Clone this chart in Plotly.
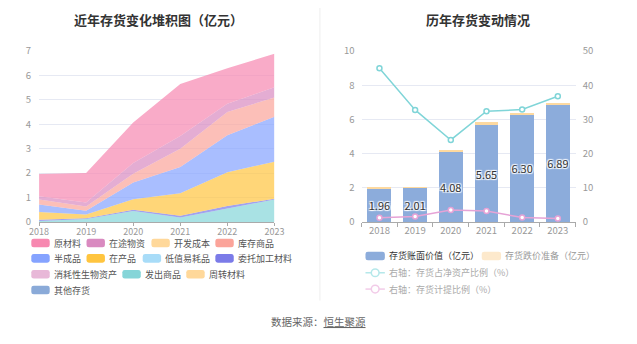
import plotly.graph_objects as go

W, H = 637, 344

years = [2018, 2019, 2020, 2021, 2022, 2023]
year_labels = ["2018", "2019", "2020", "2021", "2022", "2023"]

# stacked inventory components (亿元), bottom to top
fachu_shangpin = [0.04, 0.12, 0.45, 0.18, 0.55, 0.92]      # 发出商品
xiaohao_shengwu = [0, 0, 0, 0, 0, 0]                        # 消耗性生物资产
weituo_jiagong = [0.05, 0.03, 0.05, 0.07, 0.10, 0.03]       # 委托加工材料
dizhi_yihao = [0, 0, 0, 0, 0, 0]                            # 低值易耗品
zai_chanpin = [0.32, 0.15, 0.43, 0.93, 1.39, 1.52]          # 在产品
ban_chengpin = [0.30, 0.16, 0.69, 1.07, 1.51, 1.84]         # 半成品
kucun_shangpin = [0.21, 0.17, 0.35, 0.75, 0.96, 0.79]       # 库存商品
kaifa_chengben = [0, 0, 0, 0, 0, 0]                         # 开发成本
zaitu_wuzi = [0.13, 0.17, 0.45, 0.52, 0.33, 0.42]           # 在途物资
yuan_cailiao = [0.91, 1.21, 1.66, 2.13, 1.46, 1.37]         # 原材料
zhouzhuan_cailiao = [0, 0, 0, 0, 0, 0]                      # 周转材料
qita_cunhuo = [0, 0, 0, 0, 0, 0]                            # 其他存货

# right chart
book_value = [1.96, 2.01, 4.08, 5.65, 6.30, 6.89]           # 存货账面价值（亿元）
impairment = [0.03, 0.01, 0.15, 0.18, 0.10, 0.07]           # 存货跌价准备（亿元）
ratio_net_assets = [45.0, 32.8, 24.0, 32.4, 32.9, 36.8]     # 存货占净资产比例（%）
provision_ratio = [1.2, 1.6, 3.5, 3.2, 1.3, 1.0]            # 存货计提比例（%）

legend_names = ["原材料", "在途物资", "开发成本", "库存商品", "半成品", "在产品",
                "低值易耗品", "委托加工材料", "消耗性生物资产", "发出商品", "周转材料", "其他存货"]
legend_colors = ["#f788b0", "#d98ac0", "#ffd89a", "#fba49a", "#85a3ff", "#ffc53f",
                 "#a8dcf8", "#7b7be8", "#e8b8d8", "#85d5d8", "#ffd89a", "#8aaad8"]
color_of = dict(zip(legend_names, legend_colors))

stack_series = [
    ("其他存货", qita_cunhuo), ("周转材料", zhouzhuan_cailiao), ("发出商品", fachu_shangpin),
    ("消耗性生物资产", xiaohao_shengwu), ("委托加工材料", weituo_jiagong), ("低值易耗品", dizhi_yihao),
    ("在产品", zai_chanpin), ("半成品", ban_chengpin), ("库存商品", kucun_shangpin),
    ("开发成本", kaifa_chengben), ("在途物资", zaitu_wuzi), ("原材料", yuan_cailiao),
]


def rgba(hexc, a):
    h = hexc.lstrip("#")
    r, g, b = int(h[0:2], 16), int(h[2:4], 16), int(h[4:6], 16)
    return f"rgba({r},{g},{b},{a})"


def fx(x):
    return x / W


def fy(y):
    return 1 - y / H


FONT = "Noto Sans CJK SC, Noto Sans, sans-serif"

fig = go.Figure()

for name, vals in stack_series:
    c = color_of[name]
    fig.add_trace(go.Scatter(
        x=years, y=vals, name=name, stackgroup="one", mode="lines",
        line=dict(width=0, color=c), fillcolor=rgba(c, 0.7),
        xaxis="x", yaxis="y", showlegend=False, hoverinfo="skip"))

fig.add_trace(go.Bar(
    x=year_labels, y=book_value, name="存货账面价值（亿元）", marker=dict(color="#8cacdb", line=dict(width=0)),
    text=[f"{v:.2f}" for v in book_value], textposition="inside", insidetextanchor="middle",
    textangle=0, constraintext="none",
    textfont=dict(size=11, color="#333", family=FONT,
                  shadow="1px 1px 1px #fff, -1px -1px 1px #fff, 1px -1px 1px #fff, -1px 1px 1px #fff"),
    xaxis="x2", yaxis="y2", showlegend=False, hoverinfo="skip", width=0.67))
fig.add_trace(go.Bar(
    x=year_labels, y=impairment, name="存货跌价准备（亿元）", marker=dict(color="#fdd9a0", line=dict(width=0)),
    xaxis="x2", yaxis="y2", showlegend=False, hoverinfo="skip", width=0.67))
fig.add_trace(go.Scatter(
    x=year_labels, y=ratio_net_assets, name="右轴：存货占净资产比例（%）", mode="lines+markers",
    line=dict(color="#80d5d8", width=1.5),
    marker=dict(symbol="circle", size=5, color="#fff", line=dict(color="#80d5d8", width=1.5)),
    xaxis="x2", yaxis="y3", showlegend=False, hoverinfo="skip"))
fig.add_trace(go.Scatter(
    x=year_labels, y=provision_ratio, name="右轴：存货计提比例（%）", mode="lines+markers",
    line=dict(color="#e6a3d6", width=1.5),
    marker=dict(symbol="circle", size=5, color="#fff", line=dict(color="#e6a3d6", width=1.5)),
    xaxis="x2", yaxis="y3", showlegend=False, hoverinfo="skip"))

tickfont = dict(size=9.5, color="#999", family=FONT)
grid = "#e6e9f3"
ydom = [fy(223), fy(45)]

fig.update_layout(
    width=W, height=H, margin=dict(l=0, r=0, t=0, b=0),
    paper_bgcolor="#fff", plot_bgcolor="#fff", barmode="stack", bargap=0.33,
    showlegend=False,
    xaxis=dict(domain=[fx(30), fx(273)], range=[2018, 2023], tickvals=years, ticktext=year_labels,
               showline=True, linecolor="#aaa", linewidth=1, ticks="outside", ticklen=3, tickcolor="#aaa",
               showgrid=False, zeroline=False, tickfont=dict(size=9, color="#999", family=FONT),
               anchor="y", fixedrange=True, ticklabelstandoff=-2),
    yaxis=dict(domain=ydom, range=[0, 7], dtick=1, showgrid=True, gridcolor=grid, zeroline=False,
               showline=False, tickfont=tickfont, ticks="", anchor="x", ticklabelstandoff=7),
    xaxis2=dict(domain=[fx(363), fx(584)], type="category", showline=True, linecolor="#aaa", linewidth=1,
                ticks="outside", ticklen=4, tickcolor="#aaa", tickson="boundaries",
                showgrid=False, zeroline=False, tickfont=tickfont, anchor="y2"),
    yaxis2=dict(domain=ydom, range=[0, 10], dtick=2, showgrid=True, gridcolor=grid, zeroline=False,
                showline=False, tickfont=tickfont, anchor="x2", ticklabelstandoff=6),
    yaxis3=dict(domain=ydom, range=[0, 50], dtick=10, overlaying="y2", side="right", showgrid=False,
                zeroline=False, showline=False, tickfont=tickfont, anchor="x2", ticklabelstandoff=6),
)

annotations = []
shapes = []

# titles
annotations.append(dict(text="<b>近年存货变化堆积图（亿元）</b>", x=fx(153), y=fy(12), xref="paper", yref="paper",
                        showarrow=False, xanchor="center", yanchor="middle",
                        font=dict(size=13, color="#333", family=FONT)))
annotations.append(dict(text="<b>历年存货变动情况</b>", x=fx(483), y=fy(12), xref="paper", yref="paper",
                        showarrow=False, xanchor="center", yanchor="middle",
                        font=dict(size=13, color="#333", family=FONT)))
# source
annotations.append(dict(text="数据来源：<u>恒生聚源</u>", x=fx(319), y=fy(327), xref="paper", yref="paper",
                        showarrow=False, xanchor="center", yanchor="middle",
                        font=dict(size=10.5, color="#666", family=FONT)))

# divider
shapes.append(dict(type="line", xref="paper", yref="paper", x0=fx(320), x1=fx(320), y0=fy(0), y1=fy(305),
                   line=dict(color="#eeeeee", width=1)))


def rrect(x0, y0, x1, y1, r, color):
    p = (f"M {fx(x0 + r)},{fy(y0)} L {fx(x1 - r)},{fy(y0)} Q {fx(x1)},{fy(y0)} {fx(x1)},{fy(y0 + r)} "
         f"L {fx(x1)},{fy(y1 - r)} Q {fx(x1)},{fy(y1)} {fx(x1 - r)},{fy(y1)} "
         f"L {fx(x0 + r)},{fy(y1)} Q {fx(x0)},{fy(y1)} {fx(x0)},{fy(y1 - r)} "
         f"L {fx(x0)},{fy(y0 + r)} Q {fx(x0)},{fy(y0)} {fx(x0 + r)},{fy(y0)} Z")
    return dict(type="path", path=p, xref="paper", yref="paper", fillcolor=color, line=dict(width=0))


# left legend (flow layout)
left_rows = [
    [("原材料", 22), ("在途物资", 79), ("开发成本", 146), ("库存商品", 212)],
    [("半成品", 22), ("在产品", 79), ("低值易耗品", 137), ("委托加工材料", 212)],
    [("消耗性生物资产", 22), ("发出商品", 116), ("周转材料", 182)],
    [("其他存货", 22)],
]
row_y = [245, 261, 277.5, 294]
for row, yy in zip(left_rows, row_y):
    for name, xx in row:
        shapes.append(rrect(xx, yy - 4.5, xx + 19, yy + 4.5, 2.5, color_of[name]))
        annotations.append(dict(text=name, x=fx(xx + 22), y=fy(yy), xref="paper", yref="paper",
                                showarrow=False, xanchor="left", yanchor="middle", borderpad=0,
                                font=dict(size=9, color="#555", family=FONT)))

# right legend
shapes.append(rrect(367, 254, 387, 263, 2.5, "#8cacdb"))
annotations.append(dict(text="存货账面价值（亿元）", x=fx(389), y=fy(258.5), xref="paper", yref="paper",
                        showarrow=False, xanchor="left", yanchor="middle",
                        font=dict(size=9, color="#333", family=FONT)))
shapes.append(rrect(487, 254, 507, 263, 2.5, "#fde9cc"))
annotations.append(dict(text="存货跌价准备（亿元）", x=fx(509), y=fy(258.5), xref="paper", yref="paper",
                        showarrow=False, xanchor="left", yanchor="middle",
                        font=dict(size=9, color="#999", family=FONT)))
for yy, col, txt in [(276, "#b5e8ea", "右轴：存货占净资产比例（%）"), (293, "#f2cbe8", "右轴：存货计提比例（%）")]:
    shapes.append(dict(type="line", xref="paper", yref="paper", x0=fx(367), x1=fx(387), y0=fy(yy), y1=fy(yy),
                       line=dict(color=col, width=1.5)))
    shapes.append(dict(type="circle", xref="paper", yref="paper", x0=fx(373), x1=fx(381), y0=fy(yy - 4),
                       y1=fy(yy + 4), fillcolor="#fff", line=dict(color=col, width=1.5)))
    annotations.append(dict(text=txt, x=fx(389), y=fy(yy), xref="paper", yref="paper",
                            showarrow=False, xanchor="left", yanchor="middle",
                            font=dict(size=9, color="#aaa", family=FONT)))

fig.update_layout(annotations=annotations, shapes=shapes)
fig.write_html("out.html")
